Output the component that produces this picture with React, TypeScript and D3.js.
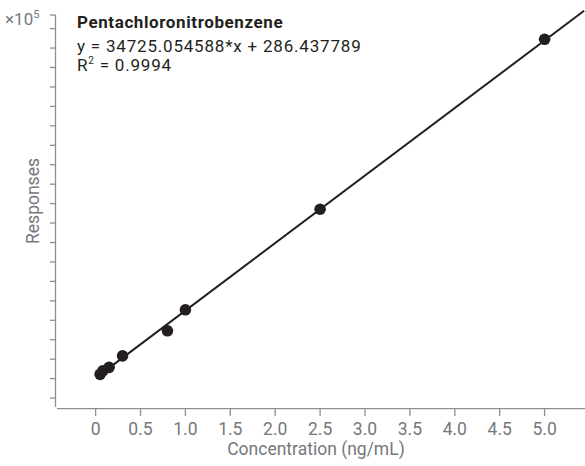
import React from "react";
import * as d3 from "d3";

const concentrations = [0.05, 0.08, 0.15, 0.3, 0.8, 1.0, 2.5, 5.0];
const responses = [2200, 4000, 5800, 11700, 24600, 35400, 87100, 174500];
const xTicks = [0, 0.5, 1.0, 1.5, 2.0, 2.5, 3.0, 3.5, 4.0, 4.5, 5.0];
const yTicks = d3.range(-10000, 180001, 10000);
const slope = 34725.054588;
const intercept = 286.437789;
const title = "Pentachloronitrobenzene";
const equation = "y = 34725.054588*x + 286.437789";
const rSquared = "0.9994";

const W = 585;
const H = 466;
const FONT = "Roboto, 'Noto Sans', sans-serif";
const AXIS = "#8c8f93";
const LABEL = "#75787c";
const INK = "#231f20";

export default function App() {
  const x = d3.scaleLinear().domain([-0.43, 5.45]).range([57, 585]);
  const y = d3.scaleLinear().domain([-14600, 187000]).range([407, 15]);
  const lineGen = d3
    .line<number>()
    .x((d) => x(d))
    .y((d) => y(slope * d + intercept));
  const fit = lineGen([0.04, 5.44]) || "";

  return (
    <svg
      width={W}
      height={H}
      style={{ position: "absolute", left: 0, top: 0, background: "#fff" }}
      fontFamily={FONT}
    >
      {/* y axis */}
      <line x1={55.5} x2={55.5} y1={y.range()[1]} y2={y.range()[0]} stroke={AXIS} strokeWidth={1.3} />
      <line x1={50} x2={55.5} y1={y.range()[1]} y2={y.range()[1]} stroke={AXIS} strokeWidth={1.3} />
      {yTicks.map((t) => (
        <line key={t} x1={50} x2={55.5} y1={y(t)} y2={y(t)} stroke={AXIS} strokeWidth={1.3} />
      ))}
      <text x={5} y={25} fontSize={17} fill={LABEL}>
        ×10
        <tspan dy={-7} fontSize={11}>5</tspan>
      </text>
      <text
        transform={`translate(39,201) rotate(-90)`}
        textAnchor="middle"
        fontSize={17.5}
        fill={LABEL}
      >
        Responses
      </text>

      {/* x axis */}
      <line x1={57} x2={585} y1={408.7} y2={408.7} stroke={AXIS} strokeWidth={1.3} />
      {xTicks.map((t) => (
        <g key={t} transform={`translate(${x(t)},0)`}>
          <line y1={408.7} y2={416} stroke={AXIS} strokeWidth={1.3} />
          <text y={435} textAnchor="middle" fontSize={17.5} fill={LABEL}>
            {t === 0 ? "0" : t.toFixed(1)}
          </text>
        </g>
      ))}
      <text x={316} y={455} textAnchor="middle" fontSize={17.5} fill={LABEL}>
        Concentration (ng/mL)
      </text>

      {/* fit line */}
      <path d={fit} fill="none" stroke={INK} strokeWidth={2} />
      {concentrations.map((c, i) => (
        <circle key={i} cx={x(c)} cy={y(responses[i])} r={5.8} fill={INK} />
      ))}

      {/* annotation */}
      <text x={77} y={28} fontSize={17} fontWeight="bold" letterSpacing={0.6} fill={INK}>
        {title}
      </text>
      <text x={77} y={52} fontSize={17} letterSpacing={0.8} fill={INK}>
        {equation}
      </text>
      <text x={77} y={71} fontSize={17} letterSpacing={0.8} fill={INK}>
        R
        <tspan dy={-7} fontSize={10}>2</tspan>
        <tspan dy={7}>{" = " + rSquared}</tspan>
      </text>
    </svg>
  );
}
